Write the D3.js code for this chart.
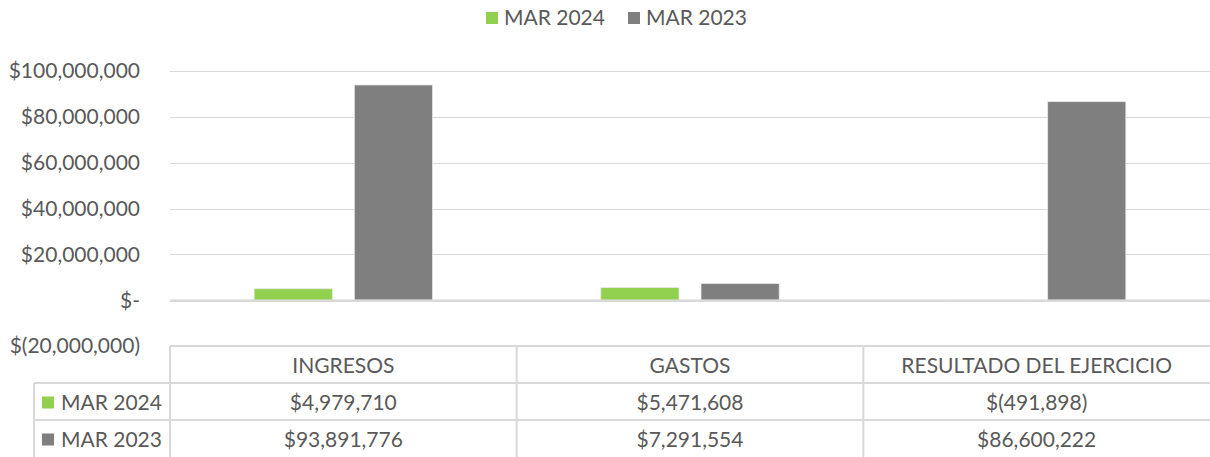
<!DOCTYPE html>
<html><head><meta charset="utf-8">
<script src="https://cdn.jsdelivr.net/npm/d3@7"></script>
<style>body{margin:0;background:#fff}svg{display:block}text{font-family:Lato,"Open Sans",sans-serif;fill:#595959}</style>
</head><body>
<svg id="c" width="1210" height="457"></svg>
<script>
const categories = ["INGRESOS", "GASTOS", "RESULTADO DEL EJERCICIO"];
const seriesNames = ["MAR 2024", "MAR 2023"];
const mar2024 = [4979710, 5471608, -491898];
const mar2023 = [93891776, 7291554, 86600222];
const yTicks = [-20000000, 0, 20000000, 40000000, 60000000, 80000000, 100000000];
const colors = ["#92d050", "#7f7f7f"];
const series = [mar2024, mar2023];

const FS = "21px";
const svg = d3.select("#c");
const plotLeft = 170, plotRight = 1210, plotTop = 71;
const y = d3.scaleLinear().domain([-20000000, 100000000]).range([346, plotTop]);
const x = d3.scaleBand().domain(categories).range([plotLeft, plotRight]).paddingInner(0).paddingOuter(0);
const xs = d3.scaleBand().domain(seriesNames).range([0, x.bandwidth()]).paddingInner(0.22).paddingOuter(0.84);

const fmtN = d3.format(",.0f");
function money(v){ if (v === 0) return "$-"; return v < 0 ? "$(" + fmtN(-v) + ")" : "$" + fmtN(v); }

// gridlines
svg.append("g").selectAll("line").data(yTicks.filter(t => t > -20000000 && t !== 0)).join("line")
  .attr("x1", plotLeft).attr("x2", plotRight).attr("y1", d => Math.round(y(d)) + 0.5).attr("y2", d => Math.round(y(d)) + 0.5)
  .attr("stroke", "#d9d9d9").attr("stroke-width", 1);

// y labels
svg.append("g").selectAll("text").data(yTicks).join("text")
  .attr("x", 140).attr("y", d => y(d)).attr("dy", "0.35em").attr("text-anchor", "end")
  .style("font-size", FS).text(d => money(d));

// bars
series.forEach((s, i) => {
  svg.append("g").selectAll("rect").data(s).join("rect")
    .attr("x", (d, j) => x(categories[j]) + xs(seriesNames[i]))
    .attr("width", xs.bandwidth())
    .attr("y", d => Math.min(y(d), y(0)))
    .attr("height", d => Math.abs(y(d) - y(0)))
    .attr("fill", colors[i]).attr("stroke", "#e6e6e6").attr("stroke-width", 0.75);
});

// zero line
svg.append("line").attr("x1", plotLeft).attr("x2", plotRight).attr("y1", y(0) + 0.5).attr("y2", y(0) + 0.5)
  .attr("stroke", "#d9d9d9").attr("stroke-width", 2.5);

// data table
const tTop = 346, r1 = 383, r2 = 420, tBot = 457, tLeft = 34;
const g = svg.append("g").attr("stroke", "#d9d9d9").attr("stroke-width", 2);
g.append("line").attr("x1", plotLeft).attr("x2", plotRight).attr("y1", tTop).attr("y2", tTop);
g.append("line").attr("x1", tLeft).attr("x2", plotRight).attr("y1", r1).attr("y2", r1);
g.append("line").attr("x1", tLeft).attr("x2", plotRight).attr("y1", r2).attr("y2", r2);
g.append("line").attr("x1", tLeft).attr("x2", tLeft).attr("y1", r1).attr("y2", tBot);
categories.forEach(c => {
  g.append("line").attr("x1", x(c)).attr("x2", x(c)).attr("y1", tTop).attr("y2", tBot);
});

svg.append("g").selectAll("text").data(categories).join("text")
  .attr("x", d => x(d) + x.bandwidth() / 2).attr("y", (tTop + r1) / 2 + 1).attr("dy", "0.35em")
  .attr("text-anchor", "middle").style("font-size", FS).text(d => d);

const rowsY = [(r1 + r2) / 2 + 1, (r2 + tBot) / 2 + 1];
series.forEach((s, i) => {
  svg.append("g").selectAll("text").data(s).join("text")
    .attr("x", (d, j) => x(categories[j]) + x.bandwidth() / 2).attr("y", rowsY[i]).attr("dy", "0.35em")
    .attr("text-anchor", "middle").style("font-size", FS).text(d => money(d));
  svg.append("rect").attr("x", 42).attr("y", rowsY[i] - 6).attr("width", 12).attr("height", 12).attr("fill", colors[i]);
  svg.append("text").attr("x", 61).attr("y", rowsY[i]).attr("dy", "0.35em").style("font-size", FS).text(seriesNames[i]);
});

// legend
const legX = [486, 628];
seriesNames.forEach((n, i) => {
  svg.append("rect").attr("x", legX[i]).attr("y", 12).attr("width", 12).attr("height", 12).attr("fill", colors[i]);
  svg.append("text").attr("x", legX[i] + 18).attr("y", 18).attr("dy", "0.35em").style("font-size", FS).text(n);
});
</script>
</body></html>
